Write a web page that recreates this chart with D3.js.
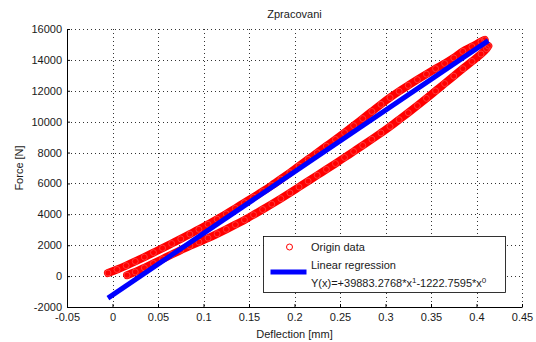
<!DOCTYPE html>
<html>
<head>
<meta charset="utf-8">
<script src="https://cdn.jsdelivr.net/npm/d3@7"></script>
<style>
body { margin: 0; background: #fff; }
text { font-family: "Liberation Sans", Arial, sans-serif; fill: #1a1a1a; }
</style>
</head>
<body>
<div id="canvas"></div>
<script>
// loading branch of the loop
const upperX = [-0.005, 0.005, 0.015, 0.025, 0.035, 0.045, 0.055, 0.065, 0.075, 0.085,
    0.095, 0.105, 0.115, 0.125, 0.135, 0.145, 0.155, 0.165, 0.175, 0.185,
    0.195, 0.205, 0.215, 0.225, 0.235, 0.245, 0.255, 0.265, 0.275, 0.285,
    0.295, 0.305, 0.315, 0.325, 0.335, 0.345, 0.355, 0.365, 0.375, 0.385,
    0.395, 0.405, 0.409];
const upperF = [200, 430, 680, 950, 1230, 1520, 1810, 2110, 2410, 2720,
    3030, 3355, 3685, 4030, 4390, 4750, 5110, 5480, 5870, 6280,
    6700, 7130, 7560, 7990, 8420, 8850, 9290, 9740, 10200, 10660,
    11120, 11560, 11970, 12350, 12720, 13080, 13430, 13770, 14130, 14550,
    14860, 15180, 15300];

// unloading branch
const lowerX = [0.016, 0.025, 0.035, 0.045, 0.055, 0.065, 0.075, 0.085, 0.095, 0.105,
    0.115, 0.125, 0.135, 0.145, 0.155, 0.165, 0.175, 0.185, 0.195, 0.205,
    0.215, 0.225, 0.235, 0.245, 0.255, 0.265, 0.275, 0.285, 0.295, 0.305,
    0.315, 0.325, 0.335, 0.345, 0.355, 0.365, 0.375, 0.385, 0.395, 0.405,
    0.411, 0.413];
const lowerF = [60, 270, 540, 820, 1110, 1400, 1680, 1960, 2210, 2460,
    2740, 3030, 3330, 3640, 3970, 4310, 4660, 5020, 5390, 5770,
    6150, 6530, 6910, 7290, 7680, 8070, 8460, 8860, 9270, 9690,
    10130, 10580, 11040, 11510, 11990, 12470, 12950, 13430, 13900, 14380,
    14730, 14900];

// regression coefficients from the legend
const regSlope = 39883.2768;
const regIntercept = -1222.7595;

const xTicks = [-0.05, 0, 0.05, 0.1, 0.15, 0.2, 0.25, 0.3, 0.35, 0.4, 0.45];
const yTicks = [-2000, 0, 2000, 4000, 6000, 8000, 10000, 12000, 14000, 16000];

const titleText = "Zpracovani";
const xLabel = "Deflection [mm]";
const yLabel = "Force [N]";

// set the dimensions and margins of the graph
const margin = {top: 29, right: 14, bottom: 35, left: 67},
    width = 536 - margin.left - margin.right,
    height = 342 - margin.top - margin.bottom;

const root = d3.select("#canvas")
    .append("svg")
    .attr("width", 536)
    .attr("height", 342);

root.append("rect").attr("width", 536).attr("height", 342).attr("fill", "#fff");

const svg = root.append("g")
    .attr("transform", "translate(" + margin.left + "," + margin.top + ")");

const xScale = d3.scaleLinear().domain([-0.05, 0.45]).range([0, width]);
const yScale = d3.scaleLinear().domain([-2000, 16000]).range([height, 0]);

// dotted grid
const grid = svg.append("g")
    .attr("stroke", "#333")
    .attr("stroke-width", 1)
    .attr("stroke-dasharray", "1,3");

grid.selectAll(".vx")
    .data(xTicks)
    .enter()
    .append("line")
    .attr("x1", d => Math.round(xScale(d)) + 0.5)
    .attr("x2", d => Math.round(xScale(d)) + 0.5)
    .attr("y1", 0)
    .attr("y2", height);

grid.selectAll(".hy")
    .data(yTicks)
    .enter()
    .append("line")
    .attr("y1", d => Math.round(yScale(d)) + 0.5)
    .attr("y2", d => Math.round(yScale(d)) + 0.5)
    .attr("x1", 0)
    .attr("x2", width);

const fmt = d => String(+d.toFixed(2));

const xAxis = svg.append("g")
    .attr("transform", "translate(0," + height + ")")
    .call(d3.axisBottom(xScale).tickValues(xTicks).tickFormat(fmt)
        .tickSizeInner(-3).tickSizeOuter(0).tickPadding(6));

const yAxis = svg.append("g")
    .call(d3.axisLeft(yScale).tickValues(yTicks).tickFormat(fmt)
        .tickSizeInner(-3).tickSizeOuter(0).tickPadding(5));

[xAxis, yAxis].forEach(a => {
    a.selectAll("text").style("font-size", "11px").attr("fill", "#1a1a1a");
    a.selectAll("line").attr("stroke", "#000");
    a.select(".domain").attr("stroke", "#000");
});

// origin data: two branches drawn as dense circle bands
const branches = [
    d3.zip(upperX, upperF),
    d3.zip(lowerX, lowerF)
];

const line = d3.line()
    .x(d => xScale(d[0]))
    .y(d => yScale(d[1]))
    .curve(d3.curveCatmullRom);

const dataG = svg.append("g");

branches.forEach(b => {
    dataG.append("path")
        .datum(b)
        .attr("d", line)
        .attr("fill", "none")
        .attr("stroke", "#ff0000")
        .attr("stroke-width", 8)
        .attr("stroke-linecap", "round");

    dataG.selectAll(null)
        .data(b)
        .enter()
        .append("circle")
        .attr("cx", d => xScale(d[0]))
        .attr("cy", d => yScale(d[1]))
        .attr("r", 3)
        .attr("fill", "none")
        .attr("stroke", "#ff3a3a")
        .attr("stroke-width", 1);
});

// linear regression line
const allX = upperX.concat(lowerX);
const xExt = d3.extent(allX);

svg.append("line")
    .attr("x1", xScale(xExt[0]))
    .attr("y1", yScale(regSlope * xExt[0] + regIntercept))
    .attr("x2", xScale(xExt[1]))
    .attr("y2", yScale(regSlope * xExt[1] + regIntercept))
    .attr("stroke", "#0000ff")
    .attr("stroke-width", 5);

// titles
root.append("text")
    .attr("x", margin.left + width / 2)
    .attr("y", 18)
    .attr("text-anchor", "middle")
    .style("font-size", "11px")
    .text(titleText);

root.append("text")
    .attr("x", margin.left + width / 2)
    .attr("y", 338)
    .attr("text-anchor", "middle")
    .style("font-size", "11px")
    .text(xLabel);

root.append("text")
    .attr("transform", "rotate(-90)")
    .attr("x", -(margin.top + height / 2))
    .attr("y", 23)
    .attr("text-anchor", "middle")
    .style("font-size", "11px")
    .text(yLabel);

// legend
const legend = root.append("g");

legend.append("rect")
    .attr("x", 263.5)
    .attr("y", 236.5)
    .attr("width", 242)
    .attr("height", 56)
    .attr("fill", "#fff")
    .attr("stroke", "#000")
    .attr("stroke-width", 0.8);

legend.append("circle")
    .attr("cx", 289.5)
    .attr("cy", 247)
    .attr("r", 3)
    .attr("fill", "none")
    .attr("stroke", "#ff0000")
    .attr("stroke-width", 1);

legend.append("text")
    .attr("x", 311)
    .attr("y", 251)
    .style("font-size", "11px")
    .text("Origin data");

legend.append("line")
    .attr("x1", 270.5)
    .attr("x2", 306.5)
    .attr("y1", 272)
    .attr("y2", 272)
    .attr("stroke", "#0000ff")
    .attr("stroke-width", 5);

legend.append("text")
    .attr("x", 311)
    .attr("y", 269)
    .style("font-size", "11px")
    .text("Linear regression");

const formula = legend.append("text")
    .attr("x", 311)
    .attr("y", 287)
    .style("font-size", "11px");

formula.append("tspan").text("Y(x)=+" + regSlope.toFixed(4) + "*x");
formula.append("tspan").attr("dy", -4).style("font-size", "8px").text("1");
formula.append("tspan").attr("dy", 4).text(regIntercept.toFixed(4) + "*x");
formula.append("tspan").attr("dy", -4).style("font-size", "8px").text("0");
</script>
</body>
</html>
